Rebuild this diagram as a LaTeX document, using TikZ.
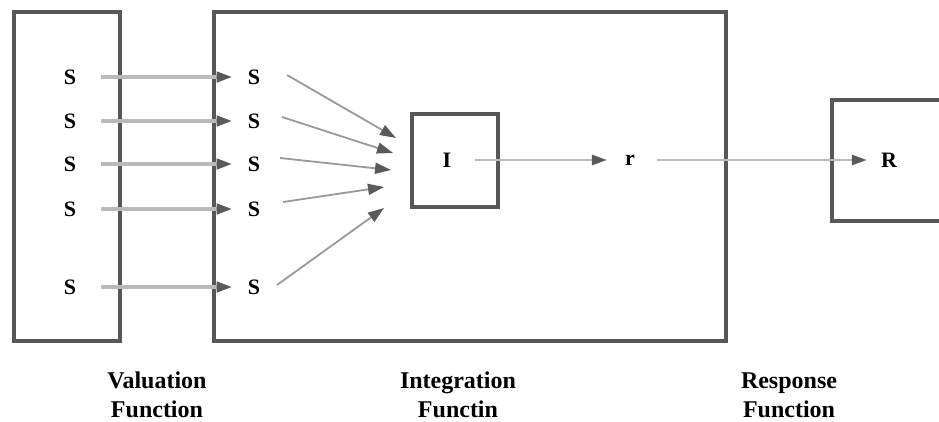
\documentclass[tikz,border=0pt]{standalone}
\usepackage{fontspec}
\setmainfont{Liberation Serif}
\usetikzlibrary{arrows.meta}
\definecolor{boxcol}{HTML}{575757}
\definecolor{linecol}{HTML}{BABABA}
\definecolor{fancol}{HTML}{999999}
\definecolor{headcol}{HTML}{5A5A5A}
\tikzset{
  frame/.style={draw=boxcol, line width=4pt},
  lab/.style={font=\bfseries\fontsize{22}{26}\selectfont, inner sep=0pt},
  captext/.style={font=\bfseries\fontsize{24}{29}\selectfont, align=center, inner sep=0pt},
  harrow/.style={draw=linecol, line width=4pt, -{Triangle[length=16pt,width=10pt,fill=headcol,color=headcol]}},
  tharrow/.style={draw=linecol, line width=2.6pt, -{Triangle[length=15pt,width=10pt,fill=headcol,color=headcol]}},
  fanarrow/.style={draw=fancol, line width=1.8pt, -{Triangle[length=16pt,width=11pt,fill=headcol,color=headcol]}},
}
\begin{document}
\begin{tikzpicture}[x=1pt,y=-1pt]
\useasboundingbox (0,0) rectangle (939,421);
\clip (0,0) rectangle (939,421);
% boxes
\draw[frame] (14,12) rectangle (120,341);
\draw[frame] (214,12) rectangle (726,341);
\node[frame, minimum width=86pt, minimum height=93pt, inner sep=0pt] (Ibox) at (454.5,160) {};
\draw[frame] (832,100) rectangle (960,221);
% S labels
\foreach \i/\y in {1/77,2/121,3/164,4/209,5/287}{
  \node[lab] (ls\i) at (70,\y) {S};
  \node[lab] (rs\i) at (254,\y) {S};
}
\foreach \i in {1,...,5}{
  \draw[harrow, shorten <=25pt, shorten >=15pt] (ls\i.east) -- (rs\i.west);
}
% fan
\coordinate (f1a) at (287,75);  \coordinate (f1b) at (396,138);
\coordinate (f2a) at (282,117); \coordinate (f2b) at (393,153);
\coordinate (f3a) at (280,158); \coordinate (f3b) at (391,170);
\coordinate (f4a) at (283,202); \coordinate (f4b) at (384,187);
\coordinate (f5a) at (277,285); \coordinate (f5b) at (384,208);
\foreach \i in {1,...,5}{ \draw[fanarrow] (f\i a) -- (f\i b); }
% I, r, R
\node[lab] (I) at (447,160) {I};
\node[lab] (r) at (630,160) {r};
\node[lab] (R) at (889,160) {R};
\draw[tharrow, shorten <=24pt, shorten >=18pt] (I.east) -- (r.west);
\draw[tharrow, shorten <=22pt, shorten >=14pt] (r.east) -- (R.west);
% captions
\node[captext] (c1) at (157,395) {Valuation\\Function};
\node[captext] (c2) at (458,395) {Integration\\Functin};
\node[captext] (c3) at (789,395) {Response\\Function};
\end{tikzpicture}
\end{document}
